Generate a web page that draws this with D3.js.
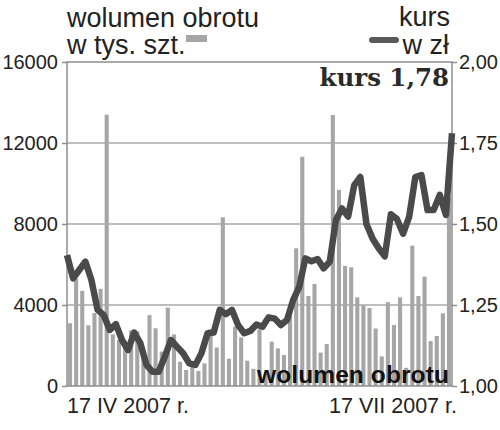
<!DOCTYPE html>
<html><head><meta charset="utf-8">
<script src="https://cdn.jsdelivr.net/npm/d3@7"></script>
<style>
html,body{margin:0;padding:0;background:#fff;}
svg{display:block;}
text{font-family:"Liberation Sans",Arial,sans-serif;fill:#222;}
</style></head>
<body>
<svg id="c" width="500" height="430"></svg>
<script>
// daily turnover volume (thousand shares)
const volume = [3100,5300,4700,3000,3600,4800,13400,2550,2270,1900,
  2750,2700,1700,3500,2850,1700,3870,2550,1200,790,
  950,740,1120,2800,1900,8330,1350,2930,2400,1250,
  850,2800,600,2190,1860,1530,3800,6800,11320,4440,
  5040,1650,2070,13380,9680,5930,5860,4380,3980,3850,
  2840,1460,4140,3010,4380,900,6930,4440,5400,2220,
  2470,3590,9300];
// share price (zł)
const kurs = [1.404,1.332,1.358,1.384,1.327,1.235,1.219,1.173,1.191,1.142,
  1.111,1.165,1.132,1.065,1.044,1.044,1.090,1.142,1.121,1.101,
  1.070,1.065,1.101,1.163,1.165,1.235,1.222,1.235,1.188,1.163,
  1.170,1.190,1.183,1.212,1.208,1.188,1.204,1.265,1.306,1.394,
  1.385,1.392,1.363,1.384,1.512,1.548,1.523,1.620,1.645,1.500,
  1.455,1.425,1.400,1.530,1.515,1.470,1.523,1.645,1.651,1.543,
  1.543,1.590,1.528,1.780];
const volTicks = [0,4000,8000,12000,16000];
const kursTicks = [1.00,1.25,1.50,1.75,2.00];
const dateLabels = ["17 IV 2007 r.","17 VII 2007 r."];
const legendVol = ["wolumen obrotu","w tys. szt."];
const legendKurs = ["kurs","w zł"];
const lastKursLabel = ["kurs","1,78"];
const bottomLabel = "wolumen obrotu";

const svg = d3.select("#c");
const L=67, R=452, T=62, B=386;
const x = d3.scaleBand().domain(d3.range(volume.length)).range([L,R]).paddingInner(0.33).paddingOuter(0.16);
const xl = d3.scalePoint().domain(d3.range(kurs.length)).range([L,R]);
const yv = d3.scaleLinear().domain([0,16000]).range([B,T]);
const yk = d3.scaleLinear().domain([1,2]).range([B,T]);
const fmtK = v => d3.format(".2f")(v).replace(".",",");

// grid
svg.append("g").selectAll("line").data(volTicks.slice(1,-1)).join("line")
  .attr("x1",L).attr("x2",R).attr("y1",d=>yv(d)).attr("y2",d=>yv(d))
  .attr("stroke","#a9a9a9").attr("stroke-width",1.6);

// bars
svg.append("g").selectAll("rect").data(volume).join("rect")
  .attr("x",(d,i)=>x(i)).attr("width",x.bandwidth())
  .attr("y",d=>yv(d)).attr("height",d=>B-yv(d))
  .attr("fill","#a6a6a6");

// frame
svg.append("path").attr("d",`M${L},${B}V${T}H${R}V${B}H${L}`)
  .attr("fill","none").attr("stroke","#8f8f8f").attr("stroke-width",1.5);

// axes
const ga = svg.append("g").attr("transform",`translate(${L},0)`)
  .call(d3.axisLeft(yv).tickValues(volTicks).tickSize(5).tickPadding(4).tickFormat(d3.format("d")));
const gb = svg.append("g").attr("transform",`translate(${R},0)`)
  .call(d3.axisRight(yk).tickValues(kursTicks).tickSize(5).tickPadding(2).tickFormat(fmtK));
[ga,gb].forEach(g=>{
  g.select(".domain").remove();
  g.selectAll(".tick line").attr("stroke","#8f8f8f").attr("stroke-width",1.5);
  g.selectAll(".tick text").attr("font-size",20).attr("font-family","Liberation Sans, Arial, sans-serif").attr("fill","#222");
});

// bottom text label
svg.append("text").attr("x",449).attr("y",383).attr("text-anchor","end")
  .attr("font-size",24.5).attr("font-weight","bold").style("fill","#111")
  .attr("letter-spacing",0.1).text(bottomLabel);

// line
svg.append("path").datum(kurs)
  .attr("d",d3.line().x((d,i)=>xl(i)).y(d=>yk(d)))
  .attr("fill","none").attr("stroke","#4a4a4a").attr("stroke-width",6.5)
  .attr("stroke-linejoin","round").attr("stroke-linecap","butt");

// date labels
svg.append("text").attr("x",L).attr("y",413).attr("font-size",21.5).text(dateLabels[0]);
svg.append("text").attr("x",457).attr("y",413).attr("text-anchor","end").attr("font-size",21.5).text(dateLabels[1]);

// legends
svg.append("text").attr("x",67).attr("y",26.5).attr("font-size",27).text(legendVol[0]);
svg.append("text").attr("x",67).attr("y",54).attr("font-size",27).text(legendVol[1]);
svg.append("rect").attr("x",186).attr("y",35).attr("width",21).attr("height",7).attr("fill","#a6a6a6");
svg.append("text").attr("x",450).attr("y",26).attr("text-anchor","end").attr("font-size",27).text(legendKurs[0]);
svg.append("text").attr("x",449).attr("y",54).attr("text-anchor","end").attr("font-size",27).text(legendKurs[1]);
svg.append("line").attr("x1",372).attr("x2",396).attr("y1",40).attr("y2",40)
  .attr("stroke","#5a5a5a").attr("stroke-width",6).attr("stroke-linecap","round");

// last price
svg.append("text").attr("x",449).attr("y",86).attr("text-anchor","end")
  .style("font-family","DejaVu Serif, serif")
  .attr("font-weight","bold").attr("font-size",24.5).style("fill","#2a2a2a")
  .text(lastKursLabel[1]);
svg.append("text").attr("x",381).attr("y",86).attr("text-anchor","end")
  .style("font-family","DejaVu Serif, serif")
  .attr("font-weight","bold").attr("font-size",24.5).style("fill","#2a2a2a")
  .text(lastKursLabel[0]);
</script>
</body></html>
